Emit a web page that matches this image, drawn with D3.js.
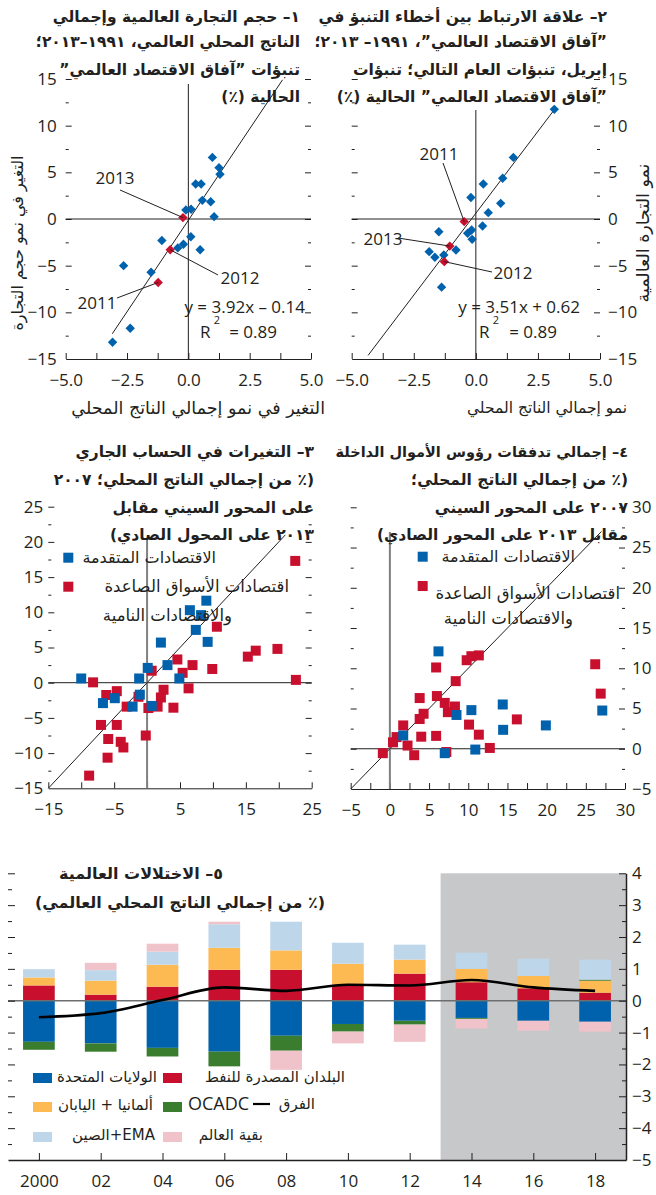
<!DOCTYPE html>
<html>
<head>
<meta charset="utf-8">
<script src="https://cdnjs.cloudflare.com/ajax/libs/d3/7.8.5/d3.min.js"></script>
<style>
  body { margin: 0; background: #fff; }
  svg text { fill: #231f20; }
  .axis text { font-family: "Open Sans", sans-serif; font-size: 17px; fill: #231f20; }
  .axis line, .axis path { stroke: #231f20; }
  .num { font-family: "Open Sans", sans-serif; font-size: 17px; }
</style>
</head>
<body>
<svg id="chart" width="656" height="1195"></svg>
<script>
// ---- panel 1 : world trade volume vs GDP (blue = other years)
var p1GdpChange   = [0.98, 1.25, 1.29, 0.30, 0.52, 0.57, 0.91, -0.10, 0.11, 1.05, 0.10, -1.08, -0.20, -0.43, 0.48, -2.64, -1.52, -2.37, -3.09];
var p1TradeChange = [6.6, 5.5, 4.8, 3.75, 3.75, 2.0, 1.85, 0.96, 1.04, 0.25, -1.9, -2.3, -2.7, -3.1, -3.3, -5.0, -5.7, -11.7, -13.2];
var p1Years = ["2011", "2012", "2013"];
var p1YearGdp   = [-1.23, -0.74, -0.22];
var p1YearTrade = [-6.8, -3.3, 0.15];
var p1Fit = [3.92, -0.14];

// ---- panel 2 : forecast errors
var p2GdpErr   = [3.16, 1.51, 1.08, 0.30, -0.20, 1.00, 0.50, 0.27, -1.49, -0.17, -0.33, -0.15, -0.80, -1.88, -1.65, -1.38, -1.29];
var p2TradeErr = [11.75, 6.6, 4.36, 3.75, 2.3, 1.68, 0.68, -0.75, -1.36, -1.18, -1.53, -2.18, -3.32, -3.5, -4.1, -7.3, -3.86];
var p2Years = ["2011", "2012", "2013"];
var p2YearGdp   = [-0.47, -1.27, -1.05];
var p2YearTrade = [-0.28, -4.57, -2.9];
var p2Fit = [3.51, 0.62];

// ---- panel 3 : current account, 2007 vs 2013
var p3AdvX = [-10.0, -6.7, -4.9, -2.2, -1.2, -1.1, 0.1, 0.7, 2.1, 3.1, 4.9, 6.5, 8.2, 7.4, 9.0, 9.2];
var p3AdvY = [0.6, -2.9, -2.2, -3.4, 0.6, -1.7, 2.1, -3.3, 5.7, 2.5, 0.6, 10.3, 9.6, 7.5, 11.65, 5.8];
var p3EmX = [22.5, 22.6, 19.8, 16.5, 15.3, 10.6, 9.9, 6.9, 5.4, 4.6, 6.3, 4.0, 2.5, 2.1, 1.6, 0.7, 0.2, -0.2, -1.3, -3.1, -4.6, -4.6, -4.0, -3.6, -5.9, -6.0, -7.0, -6.2, -8.2, -8.8];
var p3EmY = [17.3, 0.4, 4.8, 4.55, 3.7, 7.95, 1.95, 2.5, 1.4, 3.3, -0.8, -3.55, -1.0, -2.1, -3.4, 1.7, -3.6, -7.5, -2.0, -3.4, -1.2, -6.0, -8.4, -9.2, -8.0, -10.65, -6.0, -1.75, 0.05, -13.2];

// ---- panel 4 : gross capital inflows, 2007 vs 2013
var p4AdvX = [6.2, 1.7, 7.0, 8.5, 10.4, 10.9, 14.4, 14.45, 19.9, 27.1];
var p4AdvY = [12.1, 1.65, -0.55, 4.2, 4.8, -0.1, 5.5, 2.35, 2.9, 4.75];
var p4EmX = [-0.9, 0.4, 0.85, 1.7, 2.25, 3.1, 3.8, 3.8, 4.3, 4.0, 5.9, 6.0, 5.9, 7.0, 7.4, 8.3, 8.4, 7.2, 9.8, 10.4, 11.35, 10.1, 11.35, 12.75, 16.2, 26.2, 26.9];
var p4EmY = [-0.55, 0.8, 1.45, 2.9, 0.4, -0.8, 6.3, 3.7, 4.35, 1.5, 10.1, 6.55, 1.6, 5.7, 4.55, 5.25, 8.4, -0.4, 11.0, 11.5, 11.6, 3.0, 1.75, 0.1, 3.65, 10.5, 6.85];

// ---- panel 5 : global imbalances (% of world GDP)
var years        = [2000, 2002, 2004, 2006, 2008, 2010, 2012, 2014, 2016, 2018];
var yearLabels   = ["2000", "02", "04", "06", "08", "10", "12", "14", "16", "18"];
var oilExporters = [0.48, 0.19, 0.44, 0.97, 0.97, 0.50, 0.85, 0.58, 0.39, 0.25];
var unitedStates = [-1.29, -1.34, -1.48, -1.60, -1.10, -0.73, -0.63, -0.54, -0.63, -0.66];
var germanyJapan = [0.25, 0.44, 0.69, 0.69, 0.61, 0.66, 0.44, 0.42, 0.39, 0.38];
var ocadc        = [-0.25, -0.26, -0.27, -0.46, -0.47, -0.24, -0.12, -0.03, 0, 0.03];
var chinaEma     = [0.26, 0.33, 0.41, 0.74, 0.90, 0.66, 0.47, 0.51, 0.54, 0.63];
var restOfWorld  = [0, 0.23, 0.25, 0.08, -0.60, -0.37, -0.54, -0.30, -0.31, -0.31];
var discrepancy  = [-0.52, -0.39, 0.02, 0.42, 0.31, 0.50, 0.48, 0.65, 0.42, 0.31];

var BLUE = "#0062ad", RED = "#c8102e";

var svg = d3.select("#chart");

// arabic text, right edge at x (RTL embedding inside an ltr text chunk)
function rtl(g, str, x, y, size, bold) {
  return g.append("text")
    .attr("x", x).attr("y", y).attr("dy", "0.35em")
    .attr("text-anchor", "end")
    .style("font-family", '"DejaVu Sans", sans-serif')
    .style("font-size", size + "px")
    .style("font-weight", bold ? "bold" : "normal")
    .text("\u202B" + str + "\u202C");
}

function cleanAxis(sel) {
  sel.attr("font-family", null).attr("font-size", null);
  sel.select(".domain").remove();
}

function fmtNum(d) { return d3.format(".1f")(d); }

// generic scatter frame
function scatterFrame(c) {
  var g = svg.append("g");
  var x = d3.scaleLinear().domain(c.xDomain).range(c.xRange);
  var y = d3.scaleLinear().domain(c.yDomain).range(c.yRange);
  var yMajor = d3.range(c.yDomain[0], c.yDomain[1] + 0.01, c.yMajorStep);
  var yMinor = d3.range(c.yDomain[0], c.yDomain[1] + 0.01, c.yMajorStep / 2).filter(function(v) { return yMajor.indexOf(v) < 0; });

  [[c.xRange[0], d3.axisRight], [c.xRange[1], d3.axisLeft]].forEach(function(s) {
    g.append("g").attr("class", "axis").attr("transform", "translate(" + s[0] + ",0)")
      .call(s[1](y).tickValues(yMajor.slice(1)).tickSize(6).tickFormat("")).call(cleanAxis);
    g.append("g").attr("class", "axis").attr("transform", "translate(" + s[0] + ",0)")
      .call(s[1](y).tickValues(yMinor).tickSize(3).tickFormat("")).call(cleanAxis);
  });

  // y labels
  var lx = c.yLabelSide === "left" ? c.xRange[0] : c.xRange[1];
  g.append("g").attr("class", "axis").attr("transform", "translate(" + lx + ",0)")
    .call((c.yLabelSide === "left" ? d3.axisLeft(y) : d3.axisRight(y)).tickValues(yMajor).tickSize(0).tickPadding(c.yPad).tickFormat(d3.format("d")))
    .call(cleanAxis);

  // bottom axis line + upward ticks
  var yb = c.yRange[0];
  g.append("g").attr("class", "axis").attr("transform", "translate(0," + yb + ")")
    .call(d3.axisTop(x).tickValues(d3.range(c.xDomain[0], c.xDomain[1] + 0.01, c.xTickStep)).tickSize(6).tickSizeOuter(0).tickFormat(""))
    .call(function(s) { s.attr("font-family", null).attr("font-size", null); });
  g.append("g").attr("class", "axis").attr("transform", "translate(0," + yb + ")")
    .call(d3.axisBottom(x).tickValues(d3.range(c.xDomain[0], c.xDomain[1] + 0.01, c.xLabelStep)).tickSize(0).tickPadding(15).tickFormat(c.xFormat))
    .call(cleanAxis);

  // zero lines
  g.append("line").attr("x1", c.xRange[0]).attr("x2", c.xRange[1]).attr("y1", y(0)).attr("y2", y(0))
    .attr("stroke", "#231f20").attr("stroke-width", 1);
  g.append("line").attr("x1", x(0)).attr("x2", x(0)).attr("y1", c.vTop).attr("y2", yb)
    .attr("stroke", c.vColor).attr("stroke-width", c.vWidth);
  return { g: g, x: x, y: y };
}

function diamonds(p, xs, ys, color) {
  p.g.append("g").selectAll("path").data(xs).join("path")
    .attr("d", d3.symbol(d3.symbolSquare, 44))
    .attr("transform", function(d, i) { return "translate(" + p.x(d) + "," + p.y(ys[i]) + ") rotate(45)"; })
    .attr("fill", color);
}

function squares(p, xs, ys, color) {
  p.g.append("g").selectAll("path").data(xs).join("path")
    .attr("d", d3.symbol(d3.symbolSquare, 100))
    .attr("transform", function(d, i) { return "translate(" + p.x(d) + "," + p.y(ys[i]) + ")"; })
    .attr("fill", color);
}

function fitLine(p, fit, x0, x1) {
  p.g.append("line")
    .attr("x1", p.x(x0)).attr("y1", p.y(fit[0] * x0 + fit[1]))
    .attr("x2", p.x(x1)).attr("y2", p.y(fit[0] * x1 + fit[1]))
    .attr("stroke", "#231f20").attr("stroke-width", 1);
}

function yearNotes(p, names, xs, ys, notes) {
  names.forEach(function(n, i) {
    var a = notes[i];
    p.g.append("line").attr("x1", a.lx).attr("y1", a.ly)
      .attr("x2", p.x(xs[i])).attr("y2", p.y(ys[i]))
      .attr("stroke", "#231f20").attr("stroke-width", 1);
    p.g.append("text").attr("class", "num").attr("x", a.tx).attr("y", a.ty).attr("dy", "0.35em")
      .attr("text-anchor", "middle").text(n);
  });
}

function equation(p, str, ex, rx, r2x, r2end) {
  p.g.append("text").attr("class", "num").attr("x", ex).attr("y", 307).attr("dy", "0.35em")
    .attr("text-anchor", "end").text(str);
  p.g.append("text").attr("class", "num").attr("x", rx).attr("y", 332).attr("dy", "0.35em").text("R");
  p.g.append("text").attr("class", "num").attr("x", r2end).attr("y", 332).attr("dy", "0.35em")
    .attr("text-anchor", "end").text("= 0.89");
  p.g.append("text").attr("class", "num").attr("x", r2x).attr("y", 320).attr("dy", "0.35em")
    .attr("text-anchor", "middle").style("font-size", "11px").text("2");
}

var TS = 15.5; // title size

// ================= panel 1
var P1 = scatterFrame({
  xDomain: [-5, 5], xRange: [65.7, 311], yDomain: [-15, 15], yRange: [359, 79],
  yMajorStep: 5, yLabelSide: "left", yPad: 9, xTickStep: 1.25, xLabelStep: 2.5, xFormat: fmtNum,
  vTop: 84, vColor: "#231f20", vWidth: 1
});
fitLine(P1, p1Fit, -3.1, 3.84);
diamonds(P1, p1GdpChange, p1TradeChange, BLUE);
diamonds(P1, p1YearGdp, p1YearTrade, RED);
yearNotes(P1, p1Years, p1YearGdp, p1YearTrade, [
  { tx: 97, ty: 303, lx: 117, ly: 298 },
  { tx: 240, ty: 278, lx: 218, ly: 275 },
  { tx: 115, ty: 178, lx: 120, ly: 190 }
]);
equation(P1, "y = 3.92x \u2013 0.14", 305, 200, 217, 277);
["\u0661\u2013 حجم التجارة العالمية وإجمالي",
 "الناتج المحلي العالمي، \u0661\u0669\u0669\u0661\u2013\u0662\u0660\u0661\u0663؛",
 "تنبؤات \u201dآفاق الاقتصاد العالمي\u201d",
 "الحالية (\u066a)"].forEach(function(s, i) {
  rtl(svg, s, 300, [17, 42, 70, 97][i], TS, true);
});
rtl(svg, "التغير في نمو إجمالي الناتج المحلي", 325, 408, 17.5, false);
rtl(svg, "التغير في نمو حجم التجارة", 0, 0, 16, false)
  .attr("text-anchor", "middle").attr("transform", "translate(17,243) rotate(-90)");

// ================= panel 2
var P2 = scatterFrame({
  xDomain: [-5, 5], xRange: [351.7, 600], yDomain: [-15, 15], yRange: [359, 79],
  yMajorStep: 5, yLabelSide: "right", yPad: 8, xTickStep: 1.25, xLabelStep: 2.5, xFormat: fmtNum,
  vTop: 110, vColor: "#231f20", vWidth: 1
});
fitLine(P2, p2Fit, -4.34, 3.16);
diamonds(P2, p2GdpErr, p2TradeErr, BLUE);
diamonds(P2, p2YearGdp, p2YearTrade, RED);
yearNotes(P2, p2Years, p2YearGdp, p2YearTrade, [
  { tx: 439, ty: 154, lx: 443, ly: 163 },
  { tx: 513, ty: 273, lx: 492, ly: 272 },
  { tx: 383, ty: 239, lx: 398, ly: 238 }
]);
equation(P2, "y = 3.51x + 0.62", 580, 479, 496, 557);
["\u0662\u2013 علاقة الارتباط بين أخطاء التنبؤ في",
 "\u201dآفاق الاقتصاد العالمي\u201d، \u0661\u0669\u0669\u0661\u2013 \u0662\u0660\u0661\u0663؛",
 "إبريل، تنبؤات العام التالي؛ تنبؤات",
 "\u201dآفاق الاقتصاد العالمي\u201d الحالية (\u066a)"].forEach(function(s, i) {
  rtl(svg, s, 607, [17, 42, 70, 97][i], TS, true);
});
rtl(svg, "نمو إجمالي الناتج المحلي", 627, 408, 15.5, false);
rtl(svg, "نمو التجارة العالمية", 0, 0, 17.5, false)
  .attr("text-anchor", "middle").attr("transform", "translate(643,233) rotate(-90)");

// ================= panel 3
var P3 = scatterFrame({
  xDomain: [-15, 25], xRange: [48.3, 311.7], yDomain: [-15, 25], yRange: [788.3, 506.7],
  yMajorStep: 5, yLabelSide: "left", yPad: 5, xTickStep: 5, xLabelStep: 10, xFormat: d3.format("d"),
  vTop: 538, vColor: "#808080", vWidth: 2
});
P3.g.append("line").attr("x1", P3.x(-15)).attr("y1", P3.y(-15)).attr("x2", P3.x(21)).attr("y2", P3.y(21))
  .attr("stroke", "#231f20").attr("stroke-width", 1);
squares(P3, p3EmX, p3EmY, RED);
squares(P3, p3AdvX, p3AdvY, BLUE);

// ================= panel 4
var P4 = scatterFrame({
  xDomain: [-5, 30], xRange: [350.7, 625], yDomain: [-5, 30], yRange: [789, 507.3],
  yMajorStep: 5, yLabelSide: "right", yPad: 7, xTickStep: 2.5, xLabelStep: 5, xFormat: d3.format("d"),
  vTop: 532, vColor: "#808080", vWidth: 2
});
P4.g.append("line").attr("x1", P4.x(-5)).attr("y1", P4.y(-5)).attr("x2", P4.x(27)).attr("y2", P4.y(27))
  .attr("stroke", "#231f20").attr("stroke-width", 1);
squares(P4, p4EmX, p4EmY, RED);
squares(P4, p4AdvX, p4AdvY, BLUE);

// legends + titles for panels 3,4
[[P3, 68.3, 557.7, 586.7, 216, 289, 232, 586.7, 615],
 [P4, 422.7, 556.7, 586, 575, 620, 573, 593, 618]].forEach(function(L) {
  var g = L[0].g;
  g.append("rect").attr("x", L[1] - 5).attr("y", L[2] - 5).attr("width", 10).attr("height", 10).attr("fill", BLUE);
  g.append("rect").attr("x", L[1] - 5).attr("y", L[3] - 5).attr("width", 10).attr("height", 10).attr("fill", RED);
  rtl(g, "الاقتصادات المتقدمة", L[4], L[2], 16, false);
  rtl(g, "اقتصادات الأسواق الصاعدة", L[5], L[7], 16.5, false);
  rtl(g, "والاقتصادات النامية", L[6], L[8], 16.5, false);
});
["\u0663\u2013 التغيرات في الحساب الجاري",
 "(\u066a من إجمالي الناتج المحلي؛ \u0662\u0660\u0660\u0667",
 "على المحور السيني مقابل",
 "\u0662\u0660\u0661\u0663 على المحول الصادي)"].forEach(function(s, i) {
  rtl(svg, s, 314, [452, 480, 508, 535][i], TS, true);
});
["\u0664\u2013 إجمالي تدفقات رؤوس الأموال الداخلة",
 "(\u066a من إجمالي الناتج المحلي؛",
 "\u0662\u0660\u0660\u0667 على المحور السيني",
 "مقابل \u0662\u0660\u0661\u0663 على المحور الصادي)"].forEach(function(s, i) {
  rtl(svg, s, 628, [452, 480, 508, 535][i], i === 0 ? 14.5 : TS, true);
});

// ================= panel 5
var g5 = svg.append("g");
var x5 = d3.scaleLinear().domain([1999, 2019]).range([8, 626]);
var y5 = d3.scaleLinear().domain([-5, 4]).range([1160, 873.3]);

g5.append("rect").attr("x", x5(2013)).attr("y", y5(4)).attr("width", x5(2019) - x5(2013))
  .attr("height", y5(-5) - y5(4)).attr("fill", "#c7c8ca");

var rows = years.map(function(yr, i) {
  return { year: yr, oil: oilExporters[i], us: unitedStates[i], gj: germanyJapan[i],
           ocadc: ocadc[i], china: chinaEma[i], rest: restOfWorld[i] };
});
var keys = ["oil", "us", "gj", "ocadc", "china", "rest"];
var colors = { oil: RED, us: BLUE, gj: "#fdb952", ocadc: "#3a7d2e", china: "#bed6ea", rest: "#f0c3cb" };
var stack = d3.stack().keys(keys).offset(d3.stackOffsetDiverging)(rows);
var barW = 31.7;
g5.append("g").selectAll("g").data(stack).join("g")
  .attr("fill", function(s) { return colors[s.key]; })
  .selectAll("rect").data(function(s) { return s; }).join("rect")
  .attr("x", function(d) { return x5(d.data.year) - barW / 2; })
  .attr("width", barW)
  .attr("y", function(d) { return y5(Math.max(d[0], d[1])); })
  .attr("height", function(d) { return Math.abs(y5(d[0]) - y5(d[1])); });

g5.append("line").attr("x1", 8).attr("x2", 626).attr("y1", y5(0)).attr("y2", y5(0))
  .attr("stroke", "#6d6e70").attr("stroke-width", 1.5);

g5.append("path").datum(discrepancy)
  .attr("fill", "none").attr("stroke", "#000").attr("stroke-width", 2.6)
  .attr("d", d3.line().x(function(d, i) { return x5(years[i]); }).y(function(d) { return y5(d); }).curve(d3.curveMonotoneX));

// axes
var y5Major = d3.range(-4, 4.01, 1);
var y5Minor = d3.range(-4.5, 4.01, 1);
g5.append("g").attr("class", "axis").attr("transform", "translate(626,0)")
  .call(d3.axisRight(y5).tickValues(d3.range(-5, 4.01, 1)).tickSize(0).tickPadding(6).tickFormat(d3.format("d")))
  .call(function(s) { s.attr("font-family", null).attr("font-size", null); s.select(".domain").attr("stroke-width", 1.5); });
g5.append("g").attr("class", "axis").attr("transform", "translate(626,0)")
  .call(d3.axisLeft(y5).tickValues(y5Major).tickSize(7).tickFormat("")).call(cleanAxis);
g5.append("g").attr("class", "axis").attr("transform", "translate(626,0)")
  .call(d3.axisLeft(y5).tickValues(y5Minor).tickSize(4).tickFormat("")).call(cleanAxis);
g5.append("g").attr("class", "axis").attr("transform", "translate(8,0)")
  .call(d3.axisRight(y5).tickValues(y5Major).tickSize(7).tickFormat("")).call(cleanAxis);
g5.append("g").attr("class", "axis").attr("transform", "translate(8,0)")
  .call(d3.axisRight(y5).tickValues(y5Minor).tickSize(4).tickFormat("")).call(cleanAxis);
g5.append("g").attr("class", "axis").attr("transform", "translate(0," + y5(-5) + ")")
  .call(d3.axisTop(x5).tickValues(years).tickSize(7).tickSizeOuter(0).tickFormat(""))
  .call(function(s) { s.attr("font-family", null).attr("font-size", null); s.select(".domain").attr("stroke-width", 1.5); });
g5.append("g").attr("class", "axis").attr("transform", "translate(0," + y5(-5) + ")")
  .call(d3.axisBottom(x5).tickValues(years).tickSize(0).tickPadding(15).tickFormat(function(d, i) { return yearLabels[i]; }))
  .call(cleanAxis);

rtl(svg, "\u0665\u2013 الاختلالات العالمية", 223, 873, 16, true);
rtl(svg, "(\u066a من إجمالي الناتج المحلي العالمي)", 325, 902, 16, true);

// legend
function swatch(x, y, c) {
  g5.append("rect").attr("x", x).attr("y", y - 5).attr("width", 19).attr("height", 10).attr("fill", c);
}
swatch(33, 1078, colors.us);     rtl(g5, "الولايات المتحدة", 157, 1077, 15, false);
swatch(163, 1078, colors.oil);   rtl(g5, "البلدان المصدرة للنفط", 345, 1077, 15, false);
swatch(33, 1107, colors.gj);     rtl(g5, "ألمانيا + اليابان", 153, 1105, 15, false);
swatch(163, 1107, colors.ocadc);
g5.append("text").attr("class", "num").style("font-size", "18px").attr("x", 188).attr("y", 1104).attr("dy", "0.35em").text("OCADC");
g5.append("line").attr("x1", 253).attr("x2", 270).attr("y1", 1104).attr("y2", 1104).attr("stroke", "#000").attr("stroke-width", 2.2);
rtl(g5, "الفرق", 315, 1104, 15, false);
swatch(33, 1137, colors.china);  rtl(g5, "EMA+الصين", 155, 1135, 15, false);
swatch(163, 1137, colors.rest);  rtl(g5, "بقية العالم", 263, 1135, 15, false);
</script>
</body>
</html>
